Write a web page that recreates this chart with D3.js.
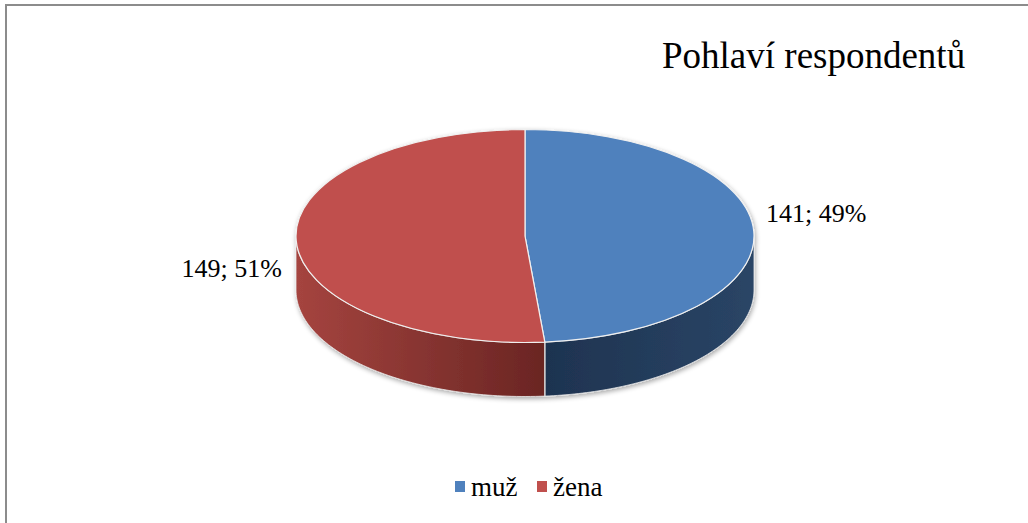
<!DOCTYPE html>
<html><head><meta charset="utf-8">
<script src="https://cdn.jsdelivr.net/npm/d3@7/dist/d3.min.js"></script>
<style>html,body{margin:0;padding:0;background:#fff;}svg{display:block;}</style>
</head><body>
<svg id="c" width="1028" height="523"></svg>
<script>
const title = "Pohlaví respondentů";
const categories = ["muž", "žena"];
const values = [141, 149];
const topColors = ["#4F81BD", "#C0504D"];
const sideColors = [["#1E3350", "#2A4566"], ["#A5443F", "#6A2523"]];

const svg = d3.select("#c");
const W = 1028, H = 523;
const FONT = "Liberation Serif, Times New Roman, serif";
// frame
svg.append("rect").attr("x", 6).attr("y", 5).attr("width", W + 10).attr("height", H + 10)
  .attr("fill", "#fff").attr("stroke", "#8c8c8c").attr("stroke-width", 2);

svg.append("text").attr("x", 662).attr("y", 68).text(title)
  .attr("font-family", FONT).attr("font-size", 37).attr("fill", "#000");

const cx = 525, cy = 236, rx = 229, ry = 106.5, depth = 54;
const pie = d3.pie().sort(null).value(d => d)(values);
const total = d3.sum(values);

const defs = svg.append("defs");
const f = defs.append("filter").attr("id", "sh").attr("x", "-10%").attr("y", "-10%").attr("width", "120%").attr("height", "130%");
f.append("feGaussianBlur").attr("in", "SourceAlpha").attr("stdDeviation", 2.5);
f.append("feOffset").attr("dx", 1).attr("dy", 2).attr("result", "b");
f.append("feComponentTransfer").append("feFuncA").attr("type", "linear").attr("slope", 0.35);
const m = f.append("feMerge"); m.append("feMergeNode"); m.append("feMergeNode").attr("in", "SourceGraphic");

const px = a => cx + rx * Math.sin(a);
const py = (a, dz) => cy - ry * Math.cos(a) + dz;

const pieG = svg.append("g").attr("filter", "url(#sh)");

// sides
pie.forEach((d, i) => {
  const a0 = Math.max(d.startAngle, Math.PI / 2), a1 = Math.min(d.endAngle, 3 * Math.PI / 2);
  if (a1 <= a0) return;
  const n = 80, pts = d3.range(n + 1).map(k => a0 + (a1 - a0) * k / n);
  let p = "M" + pts.map(a => px(a) + "," + py(a, 0)).join("L");
  p += "L" + pts.slice().reverse().map(a => px(a) + "," + py(a, depth)).join("L") + "Z";
  const xa = px(a0), xb = px(a1);
  const gid = "g" + i;
  const lg = defs.append("linearGradient").attr("id", gid).attr("gradientUnits", "userSpaceOnUse")
    .attr("x1", Math.min(xa, xb)).attr("x2", Math.max(xa, xb)).attr("y1", 0).attr("y2", 0);
  lg.append("stop").attr("offset", 0).attr("stop-color", sideColors[i][0]);
  lg.append("stop").attr("offset", 1).attr("stop-color", sideColors[i][1]);
  pieG.append("path").attr("d", p).attr("fill", `url(#${gid})`).attr("stroke", "#e8e8e8").attr("stroke-width", 0.8);
});
// seam edges on front
pie.forEach(d => {
  const a = d.endAngle % (2 * Math.PI);
  if (a > Math.PI / 2 && a < 3 * Math.PI / 2) {
    pieG.append("line").attr("x1", px(a)).attr("y1", py(a, 0)).attr("x2", px(a)).attr("y2", py(a, depth))
      .attr("stroke", "#d8d8d8").attr("stroke-width", 1);
  }
});
// top
const arc = d3.arc().innerRadius(0).outerRadius(rx);
pieG.append("g").attr("transform", `translate(${cx},${cy}) scale(1,${ry / rx})`)
  .selectAll("path").data(pie).join("path")
  .attr("d", arc).attr("fill", (d, i) => topColors[i])
  .attr("stroke", "#f0f0f0").attr("stroke-width", 1.2).attr("vector-effect", "non-scaling-stroke");

// labels
const fmt = d => d.value + "; " + Math.round(d.value / total * 100) + "%";
const labelPos = [{x: 766, y: 222, anchor: "start"}, {x: 282, y: 277, anchor: "end"}];
pie.forEach((d, i) => {
  svg.append("text").attr("x", labelPos[i].x).attr("y", labelPos[i].y).attr("text-anchor", labelPos[i].anchor)
    .attr("font-family", FONT).attr("font-size", 26).text(fmt(d));
});

// legend
const legX = [455, 537];
categories.forEach((c, i) => {
  svg.append("rect").attr("x", legX[i]).attr("y", 481).attr("width", 10).attr("height", 11).attr("fill", topColors[i]);
  svg.append("text").attr("x", legX[i] + 16).attr("y", 496).text(c)
    .attr("font-family", FONT).attr("font-size", 27);
});
</script>
</body></html>
